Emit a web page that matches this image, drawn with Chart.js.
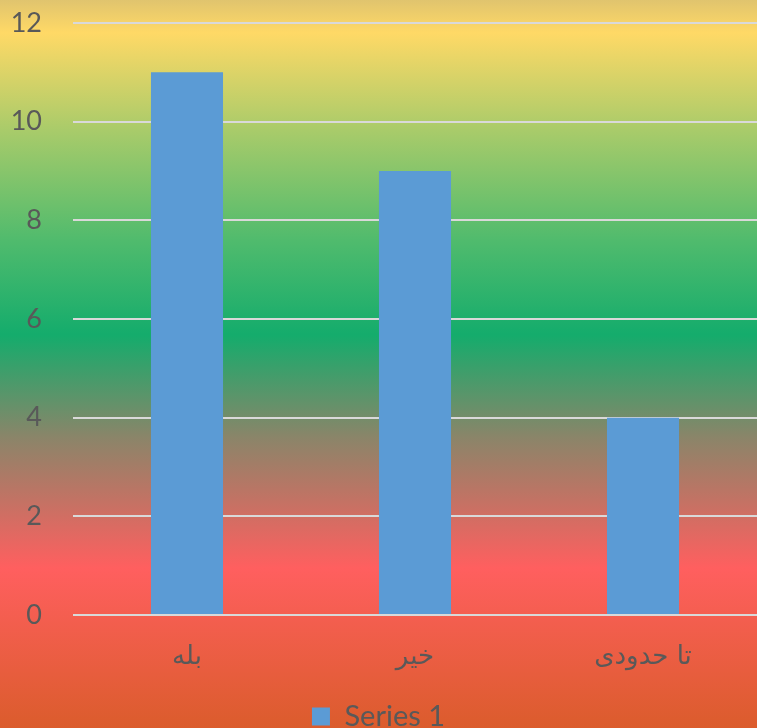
<!DOCTYPE html>
<html>
<head>
<meta charset="utf-8">
<script src="https://cdn.jsdelivr.net/npm/chart.js@4"></script>
<style>
  html, body { margin: 0; padding: 0; background: #fff; }
  #wrap { width: 757px; height: 728px; }
</style>
</head>
<body>
<div id="wrap"><canvas id="chart" width="757" height="728"></canvas></div>
<script>
const categories = ['بله', 'خیر', 'تا حدودی'];
const series1 = [11, 9, 4];
const yTicks = [0, 2, 4, 6, 8, 10, 12];

// full-canvas gradient backdrop
const bgGradient = {
    id: 'bgGradient',
    beforeDraw(chart) {
        const c = chart.ctx;
        const h = chart.height;
        const g = c.createLinearGradient(0, 0, 0, h);
        g.addColorStop(0, '#E0C46E');
        g.addColorStop(0.045, '#FFD966');
        g.addColorStop(0.18, '#A8CB6A');
        g.addColorStop(0.33, '#50BB6D');
        g.addColorStop(0.46, '#14AC6C');
        g.addColorStop(0.6, '#8A8569');
        g.addColorStop(0.78, '#FF5F5F');
        g.addColorStop(1, '#DB5C2C');
        c.save();
        c.fillStyle = g;
        c.fillRect(0, 0, chart.width, h);
        c.restore();
    }
};

const ctx = document.getElementById('chart');
new Chart(ctx.getContext('2d'), {
    type: 'bar',
    data: {
        labels: categories,
        datasets: [{
            label: 'Series 1',
            data: series1,
            backgroundColor: '#5B9BD5',
            categoryPercentage: 1,
            barPercentage: 0.316
        }]
    },
    options: {
        responsive: false,
        animation: false,
        layout: { padding: { top: 23, right: 0, bottom: -13, left: 0 } },
        plugins: {
            legend: {
                position: 'bottom',
                labels: {
                    color: '#595959',
                    font: { family: 'Lato, "DejaVu Sans"', size: 29 },
                    boxWidth: 18,
                    boxHeight: 18,
                    padding: 0
                }
            },
            tooltip: { enabled: false }
        },
        scales: {
            x: {
                grid: { display: false },
                border: { display: false },
                ticks: {
                    color: '#595959',
                    font: { family: '"DejaVu Sans", Lato', size: 26 },
                    padding: 19
                },
                afterFit(scale) { scale.height = 87; }
            },
            y: {
                min: 0,
                max: 12,
                afterBuildTicks(scale) { scale.ticks = yTicks.map(v => ({ value: v })); },
                grid: { color: '#D9D9D9', lineWidth: 2, drawTicks: false },
                border: { display: false },
                ticks: {
                    color: '#595959',
                    font: { family: 'Lato, "DejaVu Sans"', size: 27 },
                    padding: 31
                },
                afterFit(scale) {
                    scale.width = 73;
                    scale.paddingTop = 0;
                    scale.paddingBottom = 0;
                }
            }
        }
    },
    plugins: [bgGradient]
});
</script>
</body>
</html>
